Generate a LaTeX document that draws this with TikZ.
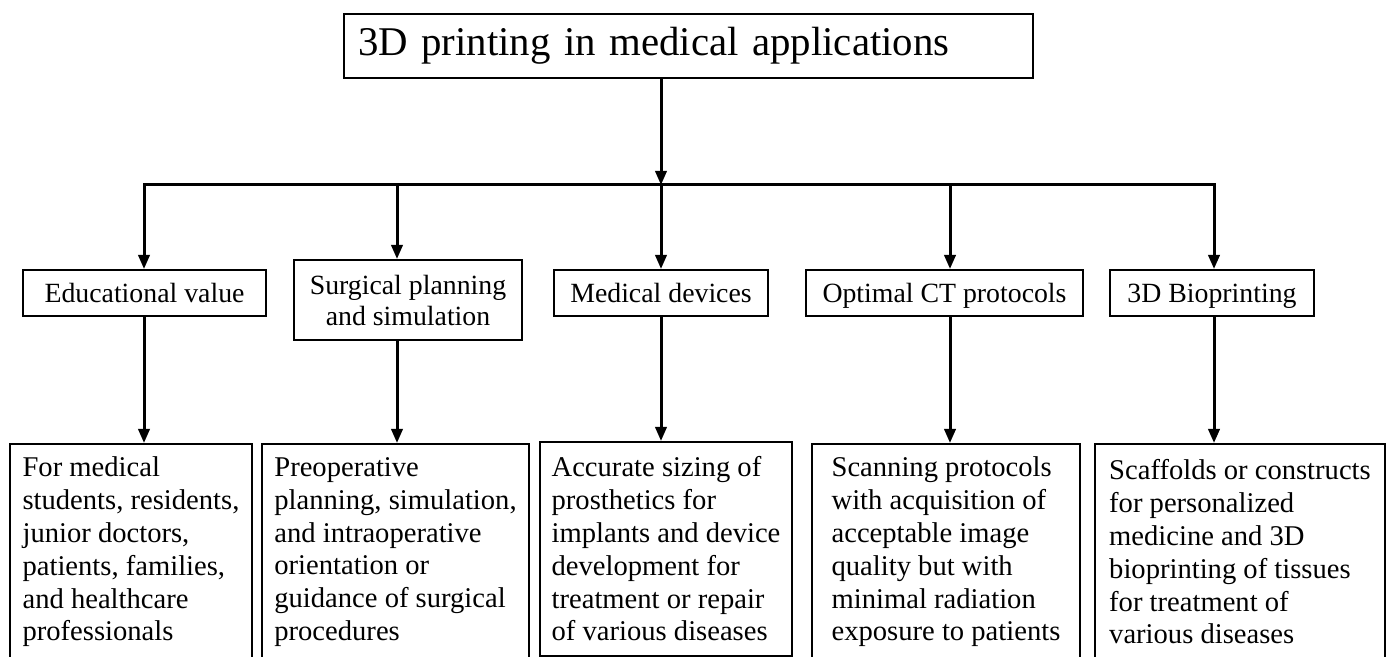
\documentclass[tikz,border=0pt]{standalone}
\usepackage{fontspec}
\setmainfont{Liberation Serif}
\usepackage{tikz}
\usetikzlibrary{arrows.meta}
\hyphenpenalty=10000
\exhyphenpenalty=10000

\begin{document}
\begin{tikzpicture}[
  x=0.5pt, y=-0.5pt,
  rootbox/.style={
    rectangle, draw, line width=1pt, anchor=north west,
    minimum height=32pt, inner xsep=7pt, text width=330.5pt,
    align=left, font=\fontsize{20.4}{24}\selectfont
  },
  catbox/.style={
    rectangle, draw, line width=1pt, anchor=north west,
    inner sep=0pt, align=center,
    font=\fontsize{13.9}{15.5}\selectfont
  },
  oneline/.style={text height=11.3pt, text depth=1.7pt},
  descbox/.style={
    rectangle, draw, line width=1pt, anchor=north west,
    inner sep=0pt, align=left,
    font=\fontsize{14.3}{16.4}\selectfont
  },
  arr/.style={-{Triangle[length=7pt, width=5.6pt]}, line width=1.5pt},
]
\useasboundingbox (0,0) rectangle (1387,657);
\clip (0,0) rectangle (1387,657);

% Root
\node[rootbox] (root) at (343,13) {3D printing in medical applications};

% Application areas
\node[catbox, oneline, minimum width=121.5pt, minimum height=23pt] (edu) at (22,269) {Educational value};
\node[catbox, minimum width=114pt, minimum height=40pt] (surg) at (293,259) {Surgical planning\\and simulation};
\node[catbox, oneline, minimum width=107pt, minimum height=23pt] (med) at (553,269) {Medical devices};
\node[catbox, oneline, minimum width=138.5pt, minimum height=23pt] (ct) at (805,269) {Optimal CT protocols};
\node[catbox, oneline, minimum width=102pt, minimum height=23pt] (bio) at (1109,269) {3D Bioprinting};

% Descriptions
\node[descbox, minimum width=121pt, minimum height=108pt] (d1) at (9,443)
  {For medical\\students, residents,\\junior doctors,\\patients, families,\\and healthcare\\professionals};
\node[descbox, minimum width=133.5pt, minimum height=108pt] (d2) at (261,443)
  {Preoperative\\planning, simulation,\\and intraoperative\\orientation or\\guidance of surgical\\procedures};
\node[descbox, minimum width=126pt, minimum height=107pt] (d3) at (539,441)
  {Accurate sizing of\\prosthetics for\\implants and device\\development for\\treatment or repair\\of various diseases};
\node[descbox, minimum width=134pt, minimum height=108pt] (d4) at (811,443)
  {Scanning protocols\\with acquisition of\\acceptable image\\quality but with\\minimal radiation\\exposure to patients};
\node[descbox, minimum width=145pt, minimum height=108pt] (d5) at (1094,443)
  {Scaffolds or constructs\\for personalized\\medicine and 3D\\bioprinting of tissues\\for treatment of\\various diseases};

% Bus
\coordinate (k1) at (144,185);
\coordinate (k2) at (397,185);
\coordinate (k3) at (661,185);
\coordinate (k4) at (950,185);
\coordinate (k5) at (1214,185);

% Arrows
\draw[arr] (k3 |- root.south) -- (k3);
\draw[arr] (k3) -- (k1) -- (k1 |- edu.north);
\draw[arr] (k3) -- (k5) -- (k5 |- bio.north);
\draw[arr] (k2) -- (k2 |- surg.north);
\draw[arr] (k3) -- (k3 |- med.north);
\draw[arr] (k4) -- (k4 |- ct.north);
\draw[arr] (k1 |- edu.south) -- (k1 |- d1.north);
\draw[arr] (k2 |- surg.south) -- (k2 |- d2.north);
\draw[arr] (k3 |- med.south) -- (k3 |- d3.north);
\draw[arr] (k4 |- ct.south) -- (k4 |- d4.north);
\draw[arr] (k5 |- bio.south) -- (k5 |- d5.north);
\end{tikzpicture}
\end{document}
